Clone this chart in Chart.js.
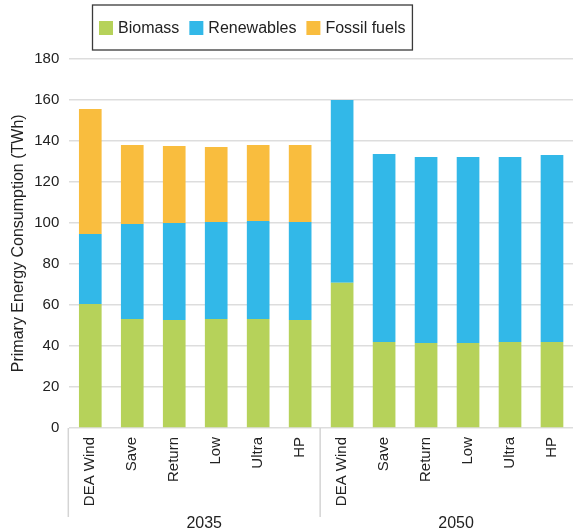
<!DOCTYPE html>
<html>
<head>
<meta charset="utf-8">
<script src="https://cdn.jsdelivr.net/npm/chart.js@4"></script>
<style>
  html, body { margin: 0; padding: 0; overflow: hidden; background: #fff; }
  #wrap { width: 579px; height: 531px; }
</style>
</head>
<body>
<div id="wrap"><canvas id="chart" width="579" height="531"></canvas></div>
<script>
// scenario categories, two groups of six
const scenarios = ['DEA Wind', 'Save', 'Return', 'Low', 'Ultra', 'HP',
                   'DEA Wind', 'Save', 'Return', 'Low', 'Ultra', 'HP'];
const years = ['2035', '2050'];
const groupSize = 6;

// TWh per source (stacked)
const biomass    = [60.4, 53.1, 52.6, 53.1, 53.1, 52.6, 70.8, 41.9, 41.4, 41.4, 41.9, 41.9];
const renewables = [34.1, 46.3, 47.3, 47.3, 47.8, 47.8, 89.0, 91.6, 90.7, 90.7, 90.2, 91.1];
const fossil     = [61.0, 38.5, 37.5, 36.5, 37.0, 37.5, 0, 0, 0, 0, 0, 0];

const yMin = 0, yMax = 180, yStep = 20;

const seriesNames = ['Biomass', 'Renewables', 'Fossil fuels'];
const seriesColors = ['#b6d25a', '#32b8e8', '#f9bd3e'];

const textColor = '#222';
const fontFamily = 'Liberation Sans, Arial, Helvetica, sans-serif';

// legend box + year groups under the axis
const extras = {
    id: 'extras',
    afterDraw(chart) {
        const { ctx, chartArea } = chart;
        const x = chart.scales.x;
        const catW = x.width / scenarios.length;

        ctx.save();

        // group separators and year labels
        ctx.strokeStyle = '#d4d4d4';
        ctx.lineWidth = 1.5;
        ctx.fillStyle = textColor;
        ctx.font = '16px ' + fontFamily;
        ctx.textAlign = 'center';
        ctx.textBaseline = 'alphabetic';
        years.forEach((yr, g) => {
            const first = g * groupSize;
            const last = first + groupSize - 1;
            const lx = x.getPixelForValue(first) - catW / 2 - 1;
            ctx.beginPath();
            ctx.moveTo(lx, chartArea.bottom);
            ctx.lineTo(lx, chartArea.bottom + 89);
            ctx.stroke();
            const cx = (x.getPixelForValue(first) + x.getPixelForValue(last)) / 2 + 9;
            ctx.fillText(yr, cx, chartArea.bottom + 100);
        });

        // legend
        ctx.font = '16px ' + fontFamily;
        ctx.textAlign = 'left';
        ctx.textBaseline = 'middle';
        const box = 14, gap = 5, itemGap = 10;
        let lx = 99;
        const ly = 28;
        seriesNames.forEach((name, i) => {
            ctx.fillStyle = seriesColors[i];
            ctx.fillRect(lx, ly - box / 2, box, box);
            ctx.fillStyle = textColor;
            ctx.fillText(name, lx + box + gap, ly + 1);
            lx += box + gap + ctx.measureText(name).width + itemGap;
        });
        ctx.strokeStyle = '#3a3a3a';
        ctx.lineWidth = 1.3;
        ctx.strokeRect(92.5, 5, lx - itemGap + 7 - 92.5, 45);

        ctx.restore();
    }
};

new Chart(document.getElementById('chart'), {
    type: 'bar',
    data: {
        labels: scenarios,
        datasets: [
            { label: seriesNames[0], data: biomass, backgroundColor: seriesColors[0] },
            { label: seriesNames[1], data: renewables, backgroundColor: seriesColors[1] },
            { label: seriesNames[2], data: fossil, backgroundColor: seriesColors[2] }
        ]
    },
    options: {
        responsive: false,
        animation: false,
        barPercentage: 0.54,
        categoryPercentage: 1.0,
        layout: { padding: { top: 58.6, right: 0, bottom: 0, left: 0 } },
        plugins: {
            legend: { display: false },
            tooltip: { enabled: false }
        },
        scales: {
            x: {
                stacked: true,
                grid: { display: false, drawTicks: false },
                border: { display: false },
                ticks: {
                    autoSkip: false,
                    maxRotation: 90,
                    minRotation: 90,
                    padding: 9,
                    color: textColor,
                    font: { family: fontFamily, size: 15 }
                },
                afterFit(s) { s.height = 103; }
            },
            y: {
                stacked: true,
                min: yMin,
                max: yMax,
                grid: { color: '#dddddd', lineWidth: 1.5, drawTicks: false },
                border: { display: false },
                ticks: {
                    stepSize: yStep,
                    padding: 10,
                    color: textColor,
                    font: { family: fontFamily, size: 15 }
                },
                title: {
                    display: true,
                    text: 'Primary Energy Consumption (TWh)',
                    color: textColor,
                    font: { family: fontFamily, size: 16 },
                    padding: { top: 9, bottom: 0 }
                },
                afterFit(s) { s.width = 69.3; }
            }
        }
    },
    plugins: [extras]
});
</script>
</body>
</html>
